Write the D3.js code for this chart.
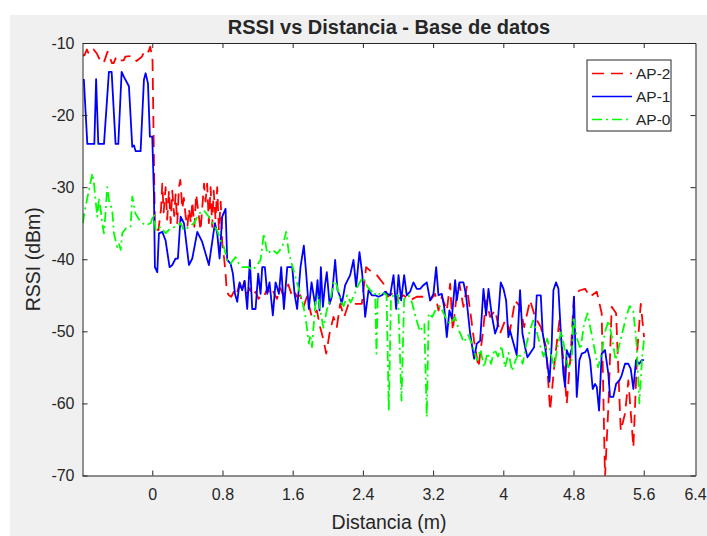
<!DOCTYPE html>
<html><head><meta charset="utf-8">
<script src="https://cdn.jsdelivr.net/npm/d3@7"></script>
<style>body{margin:0;background:#fff}svg{display:block}text{font-family:"Liberation Sans",Arial,sans-serif;fill:#262626}</style>
</head><body><svg id="c" width="707" height="536"></svg>
<script>
// ---- data ----
const title = "RSSI vs Distancia - Base de datos";
const xLabel = "Distancia (m)";
const yLabel = "RSSI (dBm)";
const xTicks = [0, 0.8, 1.6, 2.4, 3.2, 4, 4.8, 5.6];
const xEndLabel = "6.4";
const yTicks = [-70, -60, -50, -40, -30, -20, -10];
const seriesNames = ["AP-2", "AP-1", "AP-0"];

const ap2 = [[-0.79,-11.7],[-0.774,-11.7],[-0.744,-10.9],[-0.725,-11.5],[-0.706,-11.5],[-0.668,-10.9],[-0.63,-11.5],[-0.59,-12.5],[-0.554,-12.8],[-0.509,-11.2],[-0.459,-12.8],[-0.44,-12.8],[-0.41,-11.9],[-0.37,-12.4],[-0.326,-12.4],[-0.307,-11.9],[-0.232,-11.8],[-0.18,-12.5],[-0.118,-11.9],[-0.08,-10.9],[-0.042,-11.2],[-0.023,-10.5],[0.003,-12.4],[0.03,-35.5],[0.07,-36],[0.1,-33],[0.114,-29.5],[0.13,-33.5],[0.152,-30],[0.17,-34.5],[0.19,-30.5],[0.21,-35],[0.228,-30.5],[0.25,-34],[0.266,-31],[0.285,-35],[0.304,-30],[0.32,-29],[0.342,-33],[0.36,-31.5],[0.38,-34],[0.4,-35.5],[0.418,-33],[0.44,-35],[0.456,-32],[0.48,-35.5],[0.5,-31],[0.531,-34],[0.55,-36],[0.569,-33],[0.59,-29.5],[0.607,-32],[0.625,-29.5],[0.645,-35],[0.665,-30],[0.683,-35.5],[0.7,-30.5],[0.721,-34.5],[0.74,-30],[0.759,-36],[0.78,-32],[0.797,-37.8],[0.82,-40],[0.835,-42],[0.85,-44.5],[0.873,-45],[0.9,-45.2],[0.93,-44.5],[0.96,-45],[0.99,-43.5],[1.02,-44.5],[1.05,-43],[1.08,-44.8],[1.11,-44],[1.14,-45],[1.18,-44.5],[1.21,-45.5],[1.25,-44.8],[1.28,-45],[1.31,-44],[1.35,-45],[1.38,-44.5],[1.42,-45.5],[1.46,-44],[1.49,-45],[1.52,-44.5],[1.55,-43.5],[1.59,-45],[1.62,-44.5],[1.65,-45.2],[1.686,-45],[1.724,-46.6],[1.762,-45.2],[1.818,-48],[1.875,-47.1],[1.913,-49.4],[1.951,-51.2],[1.982,-53.1],[2.02,-50.3],[2.065,-48],[2.103,-49.4],[2.141,-46.2],[2.187,-48],[2.236,-46.2],[2.312,-46.2],[2.388,-46.2],[2.437,-41.1],[2.502,-41.8],[2.559,-42.2],[2.635,-43.4],[2.68,-45.2],[2.73,-44.8],[2.787,-45.7],[2.862,-45],[2.938,-45.7],[3.014,-45.2],[3.09,-45.2],[3.166,-45.7],[3.223,-44.8],[3.261,-47.1],[3.299,-45.2],[3.356,-47.1],[3.394,-43.4],[3.424,-49.9],[3.462,-45.7],[3.5,-43.4],[3.546,-46.6],[3.584,-43.8],[3.622,-47.1],[3.667,-51.3],[3.717,-55],[3.766,-50.3],[3.804,-45.7],[3.85,-48],[3.907,-47.1],[3.963,-50.3],[4.02,-48.5],[4.077,-49.9],[4.134,-45.7],[4.191,-46.6],[4.237,-49.4],[4.305,-45.7],[4.362,-48],[4.427,-49.4],[4.487,-52.2],[4.533,-61],[4.59,-53.6],[4.639,-48.5],[4.685,-54],[4.723,-60],[4.768,-53.1],[4.806,-44.8],[4.875,-44.3],[4.932,-44.1],[4.989,-45.2],[5.065,-44.5],[5.121,-47.5],[5.159,-70.2],[5.197,-60.5],[5.235,-46.6],[5.285,-47.5],[5.338,-63.8],[5.387,-61.4],[5.425,-56.8],[5.482,-66.1],[5.527,-52.6],[5.566,-46.2],[5.604,-50.8]];

const ap1 = [[-0.78,-15],[-0.74,-24],[-0.66,-24],[-0.64,-15],[-0.615,-24],[-0.55,-24],[-0.494,-14],[-0.463,-14],[-0.418,-24],[-0.387,-24],[-0.349,-14],[-0.323,-14.7],[-0.266,-16],[-0.228,-24.4],[-0.209,-24.2],[-0.19,-25],[-0.133,-25],[-0.095,-15.1],[-0.076,-14.2],[-0.049,-15.6],[-0.027,-23],[0,-23],[0.019,-30.9],[0.03,-41.1],[0.057,-41.8],[0.076,-36.4],[0.114,-36.2],[0.152,-37.4],[0.197,-41.1],[0.228,-40.8],[0.266,-39.9],[0.292,-39.9],[0.323,-34.1],[0.361,-35],[0.418,-40.8],[0.456,-39.9],[0.513,-36.2],[0.569,-37.6],[0.645,-40.8],[0.683,-37.6],[0.714,-35],[0.74,-36.4],[0.767,-39.9],[0.797,-34.1],[0.835,-33],[0.854,-40.1],[0.892,-40.6],[0.919,-42],[0.942,-44.8],[0.968,-45.9],[0.995,-43.2],[1.025,-44.3],[1.052,-43],[1.082,-46.9],[1.112,-40.1],[1.139,-46.9],[1.177,-46.9],[1.207,-42],[1.234,-44.8],[1.253,-41.1],[1.283,-41.1],[1.31,-44.8],[1.336,-43.2],[1.374,-47.8],[1.405,-43.2],[1.443,-44.8],[1.469,-41.1],[1.5,-46.9],[1.538,-41.1],[1.595,-41.1],[1.621,-44.8],[1.651,-46.9],[1.689,-41.1],[1.727,-38.1],[1.754,-42],[1.784,-46.9],[1.815,-43.2],[1.857,-46.4],[1.883,-42.9],[1.906,-47.1],[1.921,-41.1],[1.944,-46.6],[1.97,-43.4],[1.989,-41.8],[2.02,-46.2],[2.046,-45.2],[2.084,-40.1],[2.111,-44.3],[2.141,-45.2],[2.16,-46.2],[2.198,-43.6],[2.255,-42.2],[2.293,-40.1],[2.323,-43.8],[2.361,-39],[2.392,-42],[2.426,-48],[2.464,-44.3],[2.502,-45],[2.54,-45],[2.578,-45.2],[2.616,-45],[2.654,-44.5],[2.68,-44.8],[2.711,-45],[2.749,-42.2],[2.779,-46.9],[2.806,-42.2],[2.836,-45.7],[2.87,-42.2],[2.9,-45],[2.938,-44.5],[2.976,-43.2],[3.014,-44.1],[3.052,-44.1],[3.09,-43.6],[3.128,-43.2],[3.166,-45.7],[3.204,-44.8],[3.235,-41.1],[3.261,-45],[3.299,-44.8],[3.326,-46.6],[3.356,-50.8],[3.386,-47.1],[3.413,-48.2],[3.451,-42.9],[3.47,-45.7],[3.5,-43.2],[3.546,-43.2],[3.576,-45],[3.622,-50.3],[3.667,-53.8],[3.698,-51.7],[3.736,-51.3],[3.774,-44.1],[3.804,-47.8],[3.831,-44.1],[3.869,-47.8],[3.907,-50.3],[3.933,-49.4],[3.971,-43.2],[4.002,-44.1],[4.032,-45.7],[4.058,-50.8],[4.077,-49.9],[4.108,-51.3],[4.153,-53.3],[4.191,-44.3],[4.218,-50.3],[4.248,-52.2],[4.275,-53.6],[4.313,-52.9],[4.351,-52.2],[4.381,-45],[4.427,-45],[4.449,-50.3],[4.476,-52.2],[4.503,-54.5],[4.526,-57],[4.552,-51.7],[4.571,-44.3],[4.601,-43.2],[4.628,-44.1],[4.655,-50.1],[4.685,-55.9],[4.704,-57.7],[4.723,-52.6],[4.753,-53.6],[4.784,-52.2],[4.806,-45.2],[4.821,-52.2],[4.837,-59.1],[4.867,-54],[4.894,-53.1],[4.932,-52.9],[4.958,-52.4],[4.989,-54],[5.019,-58],[5.046,-57.3],[5.065,-57.7],[5.091,-61],[5.121,-53.1],[5.159,-52.6],[5.197,-55.9],[5.216,-59.1],[5.254,-59.1],[5.285,-57.3],[5.323,-56.8],[5.349,-56.1],[5.387,-54.5],[5.425,-54.5],[5.452,-55.2],[5.482,-58],[5.512,-54],[5.55,-54.5],[5.577,-54],[5.604,-54]];

const ap0 = [[-0.79,-35],[-0.778,-33.9],[-0.74,-31.5],[-0.683,-28.1],[-0.664,-29.5],[-0.645,-32],[-0.626,-34.1],[-0.608,-31.5],[-0.589,-33],[-0.57,-35],[-0.551,-36.4],[-0.532,-33.5],[-0.513,-30],[-0.494,-31.8],[-0.456,-33.2],[-0.437,-36.4],[-0.418,-37.4],[-0.4,-38.3],[-0.38,-37.8],[-0.36,-38.7],[-0.342,-36.4],[-0.3,-35.7],[-0.247,-35.5],[-0.228,-31.3],[-0.19,-33.7],[-0.133,-34.8],[-0.076,-35.3],[-0.019,-35],[0.019,-33.7],[0.038,-36],[0.095,-35.5],[0.152,-36.4],[0.209,-35.7],[0.266,-35.5],[0.323,-35],[0.361,-36],[0.418,-35.5],[0.475,-35],[0.531,-33.7],[0.588,-33.2],[0.645,-34.1],[0.702,-35.3],[0.74,-36],[0.778,-37.4],[0.816,-38.3],[0.854,-40.1],[0.892,-40.6],[0.949,-39.7],[0.987,-40.6],[1.025,-41.1],[1.101,-41.1],[1.139,-41.5],[1.177,-41.1],[1.234,-40.1],[1.272,-36.4],[1.31,-39.2],[1.367,-38.7],[1.424,-39.2],[1.481,-38.3],[1.526,-36.2],[1.557,-39.2],[1.632,-42.5],[1.708,-45.7],[1.747,-48],[1.784,-51.7],[1.8,-50.5],[1.82,-52.2],[1.84,-49],[1.86,-46],[1.89,-45],[1.92,-47.5],[1.95,-49.5],[1.99,-47],[2.03,-45.5],[2.07,-43],[2.1,-43.5],[2.14,-45.5],[2.18,-46.5],[2.22,-45],[2.26,-46],[2.3,-45],[2.35,-43.5],[2.4,-42.5],[2.45,-43.8],[2.5,-44.5],[2.54,-44.5],[2.555,-53.1],[2.57,-45],[2.62,-44.5],[2.67,-45],[2.695,-61],[2.72,-45.5],[2.76,-44.8],[2.8,-45],[2.84,-59.6],[2.87,-45.5],[2.92,-45],[2.96,-46],[3,-48],[3.05,-50],[3.1,-49],[3.128,-61.9],[3.15,-47.5],[3.19,-48],[3.23,-47],[3.28,-46.5],[3.32,-47.5],[3.36,-48.5],[3.4,-49],[3.45,-48],[3.5,-50],[3.55,-51.5],[3.6,-50.5],[3.65,-52],[3.7,-54],[3.74,-52.5],[3.78,-55],[3.82,-53],[3.86,-54.5],[3.9,-52.5],[3.94,-53.5],[3.98,-52],[4.02,-55],[4.06,-53],[4.1,-55.5],[4.14,-54],[4.18,-53],[4.22,-54.5],[4.26,-52],[4.3,-50],[4.34,-48.5],[4.38,-50],[4.42,-52],[4.46,-53.5],[4.5,-51],[4.54,-53],[4.58,-55],[4.62,-52],[4.66,-50],[4.7,-52.5],[4.74,-55],[4.78,-54],[4.8,-48],[4.84,-51],[4.88,-52.5],[4.92,-49],[4.96,-47.5],[5,-50],[5.04,-52.5],[5.08,-55],[5.12,-53],[5.16,-50],[5.2,-48.5],[5.24,-51],[5.28,-54],[5.32,-52],[5.36,-50],[5.4,-48],[5.44,-46.5],[5.48,-47],[5.52,-52],[5.55,-60],[5.58,-54],[5.604,-51]];

const seriesData = [ap2, ap1, ap0];
const seriesColors = ["#ff0000", "#0000ff", "#00ff00"];
const seriesDash = ["12,7", null, "10,4,2,4"];

// ---- layout ----
const W = 707, H = 536;
const m = {left: 82.5, right: 11.5, top: 43, bottom: 60.5};
const svg = d3.select("#c");
svg.append("rect").attr("x", 10).attr("y", 15).attr("width", W - 10).attr("height", H - 15).attr("fill", "#f0f0f0");

const x = d3.scaleLinear().domain([-0.795, 6.19]).range([m.left, W - m.right]);
const y = d3.scaleLinear().domain([-70, -10]).range([H - m.bottom, m.top]);
const [x0, x1] = x.range(), [y0, y1] = y.range();

svg.append("rect").attr("x", x0).attr("y", y1).attr("width", x1 - x0).attr("height", y0 - y1).attr("fill", "#fff");

svg.append("defs").append("clipPath").attr("id", "clip").append("rect")
  .attr("x", x0).attr("y", y1).attr("width", x1 - x0).attr("height", y0 - y1);

const line = d3.line().x(d => x(d[0])).y(d => y(d[1]));
const g = svg.append("g").attr("clip-path", "url(#clip)");
seriesData.forEach((s, i) => {
  g.append("path").datum(s).attr("d", line).attr("fill", "none")
    .attr("stroke", seriesColors[i]).attr("stroke-width", 1.8)
    .attr("stroke-linejoin", "round")
    .attr("stroke-dasharray", seriesDash[i]);
});

// axes
const fmt = d => String(d);
const axisStyle = sel => {
  sel.select(".domain").attr("stroke", "#262626");
  sel.selectAll(".tick line").attr("stroke", "#262626");
  sel.selectAll("text").attr("font-size", 16).attr("fill", "#262626")
    .attr("font-family", '"Liberation Sans", Arial, sans-serif');
};
svg.append("g").attr("transform", `translate(0,${y0})`)
  .call(d3.axisBottom(x).tickValues(xTicks).tickFormat(fmt).tickSizeInner(-5).tickSizeOuter(0).tickPadding(13))
  .call(axisStyle);
svg.append("g").attr("transform", `translate(0,${y1})`)
  .call(d3.axisTop(x).tickValues(xTicks).tickFormat("").tickSizeInner(-5).tickSizeOuter(0))
  .call(axisStyle);
svg.append("g").attr("transform", `translate(${x0},0)`)
  .call(d3.axisLeft(y).tickValues(yTicks).tickFormat(fmt).tickSizeInner(-5).tickSizeOuter(0).tickPadding(8))
  .call(axisStyle);
svg.append("g").attr("transform", `translate(${x1},0)`)
  .call(d3.axisRight(y).tickValues(yTicks).tickFormat("").tickSizeInner(-5).tickSizeOuter(0))
  .call(axisStyle);
// last x label at the right edge of the box
svg.append("text").attr("x", x1).attr("y", y0 + 13).attr("dy", "0.71em")
  .attr("text-anchor", "middle").attr("font-size", 16).text(xEndLabel);

// titles
svg.append("text").attr("x", (x0 + x1) / 2).attr("y", 34).attr("text-anchor", "middle")
  .attr("font-size", 20).attr("font-weight", "bold").attr("fill", "#000").text(title);
svg.append("text").attr("x", (x0 + x1) / 2).attr("y", 529).attr("text-anchor", "middle")
  .attr("font-size", 19.5).text(xLabel);
svg.append("text").attr("transform", `translate(40,${(y0 + y1) / 2}) rotate(-90)`)
  .attr("text-anchor", "middle").attr("font-size", 19.5).text(yLabel);

// legend
const lg = svg.append("g").attr("transform", "translate(587,60)");
lg.append("rect").attr("width", 84).attr("height", 71).attr("fill", "#fff").attr("stroke", "#262626").attr("stroke-width", 1);
seriesNames.forEach((n, i) => {
  const yy = 13.5 + i * 23;
  lg.append("line").attr("x1", 5).attr("x2", 45).attr("y1", yy).attr("y2", yy)
    .attr("stroke", seriesColors[i]).attr("stroke-width", 1.5).attr("stroke-dasharray", seriesDash[i]);
  lg.append("text").attr("x", 49).attr("y", yy).attr("dy", "0.35em").attr("font-size", 15.5).text(n);
});
</script></body></html>
